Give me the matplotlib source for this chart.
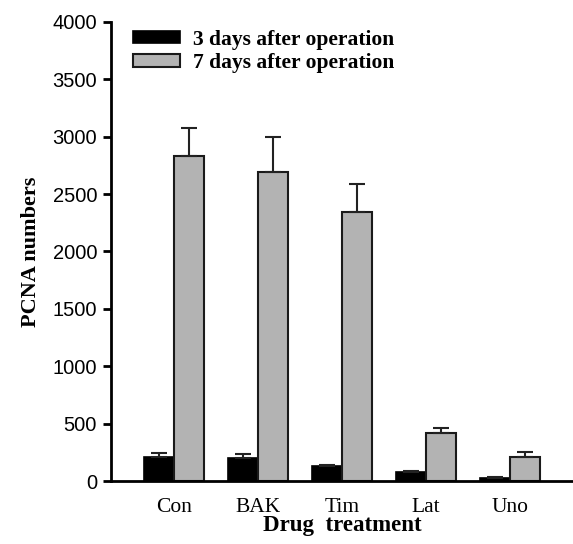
import matplotlib.pyplot as plt
import numpy as np

# Data: PCNA numbers per drug treatment
groups = ['Con', 'BAK', 'Tim', 'Lat', 'Uno']
day3 = [210, 200, 130, 80, 30]
day3_err = [35, 35, 8, 5, 3]
day7 = [2830, 2690, 2340, 415, 210]
day7_err = [250, 305, 245, 50, 40]

serif = 'Liberation Serif'
sans = 'Liberation Sans'

fig = plt.figure(figsize=(5.73, 5.44), dpi=100)
ax = fig.add_axes([0.1937, 0.1158, 0.8063, 0.8438])

x = np.arange(len(groups))
w = 0.357

ax.bar(x - w/2, day3, w, color='black', edgecolor='black', linewidth=1.2,
       yerr=[np.zeros(len(day3)), day3_err], capsize=6,
       error_kw=dict(elinewidth=1.5, capthick=1.5, ecolor='#222222'),
       label='3 days after operation')
ax.bar(x + w/2, day7, w, color='#b3b3b3', edgecolor='#1a1a1a', linewidth=1.5,
       yerr=[np.zeros(len(day7)), day7_err], capsize=6,
       error_kw=dict(elinewidth=1.5, capthick=1.5, ecolor='#222222'),
       label='7 days after operation')

ax.set_xlim(-0.75, 4.75)
ax.set_ylim(0, 4000)
ax.set_yticks(range(0, 4001, 500))
ax.set_xticks(x)
ax.set_xticklabels(groups, family=serif, fontsize=15.5)
for lab in ax.get_yticklabels():
    lab.set_family(sans)
    lab.set_fontsize(14.5)

ax.tick_params(axis='x', length=0, pad=12)
ax.tick_params(axis='y', length=6, width=2, pad=4)

for s in ['top', 'right']:
    ax.spines[s].set_visible(False)
ax.spines['left'].set_linewidth(2)
ax.spines['bottom'].set_linewidth(2)

ax.set_xlabel('Drug  treatment', family=serif, fontweight='bold', fontsize=16.5, labelpad=-1)
ax.set_ylabel('PCNA numbers', family=serif, fontweight='bold', fontsize=16, labelpad=8)

leg = ax.legend(loc='upper left', bbox_to_anchor=(0.005, 1.025), frameon=False,
                prop={'family': serif, 'weight': 'bold', 'size': 15.5},
                handlelength=2.2, handleheight=0.5, labelspacing=0.15, handletextpad=0.6)

plt.savefig('out.png', dpi=100)
